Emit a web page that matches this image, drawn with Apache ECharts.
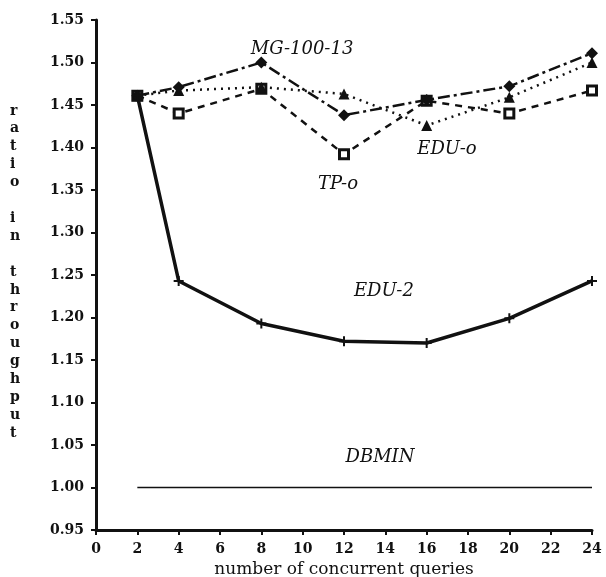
<!DOCTYPE html>
<html>
<head>
<meta charset="utf-8">
<script src="https://cdn.jsdelivr.net/npm/echarts@6/dist/echarts.min.js"></script>
<style>
	html, body { margin: 0; padding: 0; background: #fff; }
	#chart { width: 606px; height: 577px; }
</style>
</head>
<body>
<div id="chart"></div>
<script>
// 数据
const queries = [2, 4, 8, 12, 16, 20, 24];
const mg10013 = [1.461, 1.471, 1.500, 1.438, 1.456, 1.472, 1.511];
const eduO = [1.461, 1.467, 1.471, 1.463, 1.426, 1.459, 1.500];
const tpO = [1.461, 1.440, 1.469, 1.392, 1.455, 1.440, 1.467];
const edu2 = [1.461, 1.243, 1.193, 1.172, 1.170, 1.199, 1.243];
const dbminX = [2, 24];
const dbminY = [1.0, 1.0];
const yTitle = 'ratio in throughput';

// 曲线标签位置 [x, y, 文字]
const curveLabels = [
	[9.97, 1.515, 'MG-100-13'],
	[16.98, 1.398, 'EDU-o'],
	[11.71, 1.357, 'TP-o'],
	[13.93, 1.231, 'EDU-2'],
	[13.74, 1.036, 'DBMIN']
];

const chart = echarts.init(document.getElementById('chart'));

function pairs(xs, ys) {
	return xs.map(function(x, i) { return [x, ys[i]]; });
}

const plus = 'path://M4,0 L6,0 L6,4 L10,4 L10,6 L6,6 L6,10 L4,10 L4,6 L0,6 L0,4 L4,4 Z';

let option = {
	backgroundColor: '#fff',
	animation: false,
	grid: {
		left: 96,
		right: 14,
		top: 20,
		bottom: 47,
		outerBoundsMode: 'none'
	},
	graphic: [{
		type: 'text',
		left: 10,
		top: 102,
		style: {
			text: yTitle.split('').join('\n'),
			fontFamily: 'DejaVu Serif',
			fontWeight: 'bold',
			fontSize: 14,
			lineHeight: 17.9,
			fill: '#111',
			align: 'center'
		}
	}],
	xAxis: {
		type: 'value',
		min: 0,
		max: 24,
		interval: 2,
		name: 'number of concurrent queries',
		nameLocation: 'middle',
		nameGap: 28,
		nameTextStyle: {
			fontFamily: 'DejaVu Serif',
			fontSize: 17,
			color: '#111'
		},
		axisLine: { lineStyle: { color: '#111', width: 3 } },
		axisTick: { length: 5, lineStyle: { color: '#111', width: 2 } },
		axisLabel: {
			margin: 12,
			fontFamily: 'DejaVu Serif',
			fontWeight: 'bold',
			fontSize: 14,
			color: '#111'
		},
		splitLine: { show: false }
	},
	yAxis: {
		type: 'value',
		min: 0.95,
		max: 1.55,
		interval: 0.05,
		axisLine: { show: true, lineStyle: { color: '#111', width: 3 } },
		axisTick: { show: true, length: 5, lineStyle: { color: '#111', width: 2 } },
		axisLabel: {
			margin: 12,
			fontFamily: 'DejaVu Serif',
			fontWeight: 'bold',
			fontSize: 14,
			color: '#111',
			formatter: function(v) { return v.toFixed(2); }
		},
		splitLine: { show: false }
	},
	series: [{
		name: 'DBMIN',
		type: 'line',
		symbol: 'none',
		data: pairs(dbminX, dbminY),
		lineStyle: { color: '#111', width: 1.3 },
		markPoint: {
			symbol: 'circle',
			symbolSize: 0,
			label: {
				show: true,
				position: 'inside',
				formatter: '{b}',
				fontFamily: 'DejaVu Serif',
				fontStyle: 'italic',
				fontSize: 18,
				color: '#111'
			},
			data: curveLabels.map(function(d) {
				return { name: d[2], coord: [d[0], d[1]] };
			})
		}
	}, {
		name: 'TP-o',
		type: 'line',
		data: pairs(queries, tpO),
		symbol: 'rect',
		symbolSize: 9,
		itemStyle: { color: '#fff', borderColor: '#111', borderWidth: 3 },
		lineStyle: { color: '#111', width: 2.5, type: [7, 6] }
	}, {
		name: 'EDU-o',
		type: 'line',
		data: pairs(queries, eduO),
		symbol: 'triangle',
		symbolSize: 11,
		itemStyle: { color: '#111' },
		lineStyle: { color: '#111', width: 2.5, type: [2, 5] }
	}, {
		name: 'MG-100-13',
		type: 'line',
		data: pairs(queries, mg10013),
		symbol: 'diamond',
		symbolSize: 12,
		itemStyle: { color: '#111' },
		lineStyle: { color: '#111', width: 2.5, type: [12, 4, 3, 4] }
	}, {
		name: 'EDU-2',
		type: 'line',
		data: pairs(queries, edu2),
		symbol: plus,
		symbolSize: 10,
		itemStyle: { color: '#111' },
		lineStyle: { color: '#111', width: 3.5 }
	}]
};
chart.setOption(option);
</script>
</body>
</html>
